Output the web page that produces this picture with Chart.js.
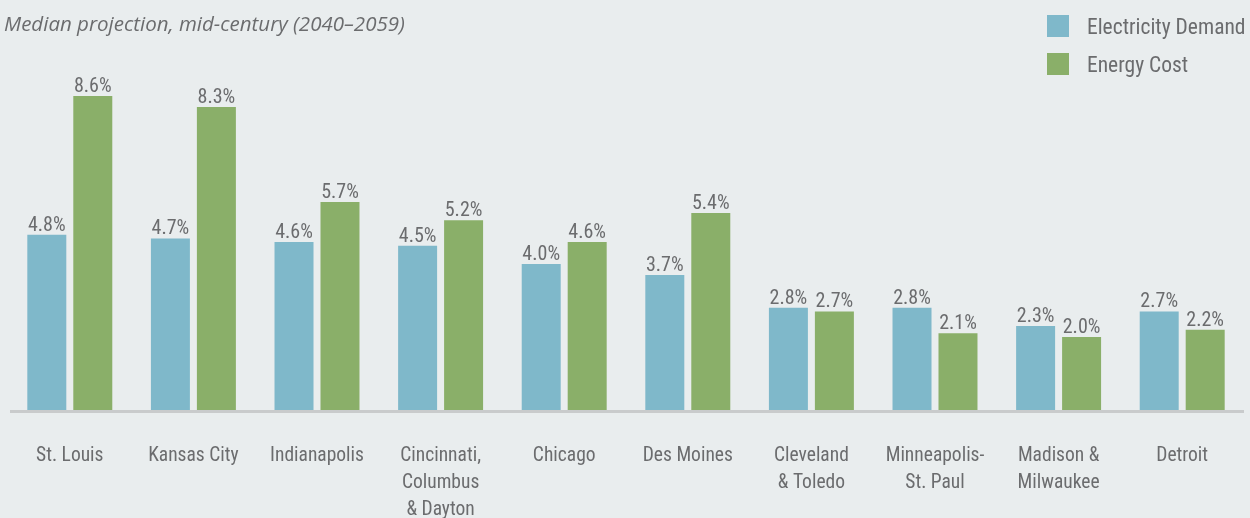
<!DOCTYPE html>
<html>
<head>
<meta charset="utf-8">
<script src="https://cdn.jsdelivr.net/npm/chart.js@4"></script>
<style>
  html, body { margin: 0; padding: 0; background: #e9edee; }
  .wrap { position: relative; width: 1250px; height: 518px; overflow: hidden; }
  .subtitle {
    position: absolute; left: 4px; top: 9px; white-space: nowrap;
    font: italic 20.5px "Open Sans", sans-serif; color: #6b6c6e;
  }
  .legend { position: absolute; left: 1047px; top: 15px; }
  .legend-item {
    display: flex; align-items: center; height: 22px; margin-bottom: 16px; white-space: nowrap;
    font: 21.5px "Roboto Condensed", "DejaVu Sans Condensed", sans-serif; color: #6b6c6e;
  }
  .legend-item span.box { width: 22px; height: 22px; margin-right: 18px; flex: none; }
  canvas { position: absolute; left: 0; top: 0; }
</style>
</head>
<body>
<div class="wrap">
  <canvas id="chart" width="1250" height="518"></canvas>
  <div class="subtitle">Median projection, mid-century (2040–2059)</div>
  <div class="legend">
    <div class="legend-item"><span class="box" style="background:#7fb8ca"></span>Electricity Demand</div>
    <div class="legend-item"><span class="box" style="background:#8aaf69"></span>Energy Cost</div>
  </div>
</div>
<script>
const cities = [
  'St. Louis',
  'Kansas City',
  'Indianapolis',
  ['Cincinnati,', 'Columbus', '& Dayton'],
  'Chicago',
  'Des Moines',
  ['Cleveland', '& Toledo'],
  ['Minneapolis-', 'St. Paul'],
  ['Madison &', 'Milwaukee'],
  'Detroit',
];
const electricityDemand = [4.8, 4.7, 4.6, 4.5, 4.0, 3.7, 2.8, 2.8, 2.3, 2.7];
const energyCost = [8.6, 8.3, 5.7, 5.2, 4.6, 5.4, 2.7, 2.1, 2.0, 2.2];

const BLUE = '#7fb8ca';
const GREEN = '#8aaf69';
const TEXT = '#6b6c6e';
const CONDENSED = '"Roboto Condensed", "DejaVu Sans Condensed", sans-serif';

// thick grey baseline under the bars
const baselinePlugin = {
  id: 'baseline',
  beforeDatasetsDraw(chart) {
    const { ctx, chartArea } = chart;
    ctx.save();
    ctx.fillStyle = '#c9cbcc';
    ctx.fillRect(10, chartArea.bottom, chartArea.right - 10, 3);
    ctx.restore();
  },
};

// percentage labels above each bar
const valueLabels = {
  id: 'valueLabels',
  afterDatasetsDraw(chart) {
    const { ctx } = chart;
    ctx.save();
    ctx.font = '20px ' + CONDENSED;
    ctx.fillStyle = TEXT;
    ctx.textAlign = 'center';
    ctx.textBaseline = 'alphabetic';
    chart.data.datasets.forEach((dataset, i) => {
      chart.getDatasetMeta(i).data.forEach((bar, j) => {
        ctx.fillText(dataset.data[j].toFixed(1) + '%', bar.x, bar.y - 4);
      });
    });
    ctx.restore();
  },
};

new Chart(document.getElementById('chart'), {
  type: 'bar',
  data: {
    labels: cities,
    datasets: [
      { label: 'Electricity Demand', data: electricityDemand, backgroundColor: BLUE },
      { label: 'Energy Cost', data: energyCost, backgroundColor: GREEN },
    ],
  },
  options: {
    responsive: false,
    animation: false,
    layout: { padding: { top: 45, left: 8, right: 6, bottom: 0 } },
    datasets: {
      bar: { categoryPercentage: 0.744, barPercentage: 0.848 },
    },
    plugins: {
      legend: { display: false },
      tooltip: { enabled: false },
    },
    scales: {
      x: {
        grid: { display: false, drawTicks: false },
        border: { display: false },
        afterFit: scale => { scale.height = 108; },
        ticks: {
          autoSkip: false,
          maxRotation: 0,
          padding: 32,
          color: TEXT,
          font: { family: CONDENSED, size: 19.5, lineHeight: 1.4 },
        },
      },
      y: {
        display: false,
        min: 0,
        max: 10,
      },
    },
  },
  plugins: [baselinePlugin, valueLabels],
});
</script>
</body>
</html>
